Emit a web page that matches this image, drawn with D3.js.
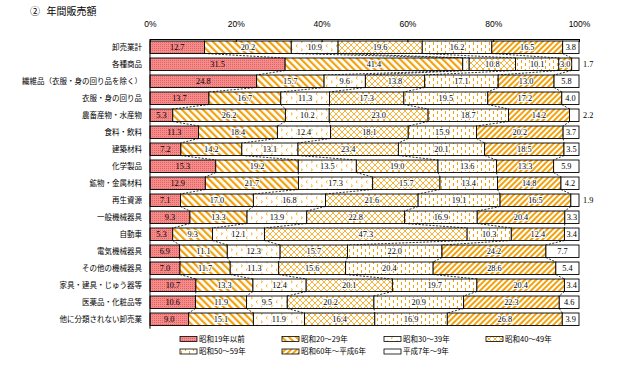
<!DOCTYPE html>
<html><head><meta charset="utf-8">
<script src="https://cdn.jsdelivr.net/npm/d3@7"></script>
<style>body{margin:0;background:#fff}svg{display:block}</style>
</head><body>
<svg id="c" width="624" height="366"></svg>
<script>
const categories = ["卸売業計","各種商品","繊維品（衣服・身の回り品を除く）","衣服・身の回り品","農畜産物・水産物","食料・飲料","建築材料","化学製品","鉱物・金属材料","再生資源","一般機械器具","自動車","電気機械器具","その他の機械器具","家具・建具・じゅう器等","医薬品・化粧品等","他に分類されない卸売業"];
const seriesNames = ["昭和19年以前","昭和20～29年","昭和30～39年","昭和40～49年","昭和50～59年","昭和60年～平成6年","平成7年～9年"];
const vS19   = [12.7,31.5,24.8,13.7,5.3,11.3,7.2,15.3,12.9,7.1,9.3,5.3,6.9,7.0,10.7,10.6,9.0];
const vS20   = [20.2,41.4,15.7,16.7,26.2,18.4,14.2,19.2,21.7,17.0,13.3,9.3,11.1,11.7,13.3,11.9,15.1];
const vS30   = [10.9,1.5,9.6,11.3,10.2,12.4,13.1,13.5,17.3,16.8,13.9,12.1,12.3,11.3,12.4,9.5,11.9];
const vS40   = [19.6,10.8,13.8,17.3,23.0,18.1,23.4,19.0,15.7,21.6,22.8,47.3,15.7,15.6,20.1,20.2,16.4];
const vS50   = [16.2,10.1,17.1,19.5,18.7,15.9,20.1,13.6,13.4,19.1,16.9,10.3,22.0,20.4,19.7,20.9,16.9];
const vS60   = [16.5,3.0,13.0,17.2,14.2,20.2,18.5,13.3,14.8,16.5,20.4,12.4,24.2,28.6,20.4,22.3,26.8];
const vH7    = [3.8,1.7,5.8,4.0,2.2,3.7,3.5,5.9,4.2,1.9,3.3,3.4,7.7,5.4,3.4,4.6,3.9];
const tickValues = [0,0.2,0.4,0.6,0.8,1.0];

const seriesValues = [vS19,vS20,vS30,vS40,vS50,vS60,vH7];
const rows = categories.map((c,i)=>{const o={cat:c}; seriesNames.forEach((s,j)=>o[s]=seriesValues[j][i]); return o;});

const svg = d3.select("#c");
const OR = "#f4a10c";
const defs = svg.append("defs");
// patterns
let p = defs.append("pattern").attr("id","p0").attr("patternUnits","userSpaceOnUse").attr("width",2).attr("height",2);
p.append("rect").attr("width",2).attr("height",2).attr("fill","#f58c8c");
p.append("rect").attr("width",1).attr("height",1).attr("fill","#e46262");
p = defs.append("pattern").attr("id","p1").attr("patternUnits","userSpaceOnUse").attr("width",5).attr("height",5).attr("patternTransform","rotate(-45)");
p.append("rect").attr("width",5).attr("height",5).attr("fill","#fff");
p.append("rect").attr("width",2.2).attr("height",5).attr("fill",OR);
p = defs.append("pattern").attr("id","p2").attr("patternUnits","userSpaceOnUse").attr("width",10).attr("height",8);
p.append("rect").attr("width",10).attr("height",8).attr("fill","#fff");
p.append("path").attr("d","M1,0.5L2.5,1.8L1,3.1M7.5,4.5L6,5.8L7.5,7.1").attr("fill","none").attr("stroke",OR).attr("stroke-width",0.9);
p = defs.append("pattern").attr("id","p3").attr("patternUnits","userSpaceOnUse").attr("width",6).attr("height",6);
p.append("rect").attr("width",6).attr("height",6).attr("fill","#fff");
p.append("path").attr("d","M0,0L6,6M6,0L0,6").attr("stroke",OR).attr("stroke-width",0.8);
p = defs.append("pattern").attr("id","p4").attr("patternUnits","userSpaceOnUse").attr("width",8).attr("height",6);
p.append("rect").attr("width",8).attr("height",6).attr("fill","#fff");
p.append("rect").attr("x",1).attr("y",0).attr("width",1).attr("height",3).attr("fill",OR);
p.append("rect").attr("x",5).attr("y",3).attr("width",1).attr("height",3).attr("fill",OR);
p = defs.append("pattern").attr("id","p5").attr("patternUnits","userSpaceOnUse").attr("width",4).attr("height",4).attr("patternTransform","rotate(45)");
p.append("rect").attr("width",4).attr("height",4).attr("fill","#fff");
p.append("rect").attr("width",2).attr("height",4).attr("fill",OR);
const fills = ["url(#p0)","url(#p1)","url(#p2)","url(#p3)","url(#p4)","url(#p5)","#fff"];

const x = d3.scaleLinear().domain([0,1]).range([150,579]);
const y = d3.scaleBand().domain(categories).range([39.3,327.2]).paddingInner(0.265).paddingOuter(0.1);

const stack = d3.stack().keys(seriesNames).offset(d3.stackOffsetExpand);
const series = stack(rows);

// title
svg.append("text").attr("x",30).attr("y",15).attr("font-family","Noto Sans CJK JP").attr("font-size",10).text("②");
svg.append("text").attr("x",46.5).attr("y",15).attr("font-family","Noto Sans CJK JP").attr("font-size",10).text("年間販売額");

// series lines (dashed connectors)
const conn = svg.append("g").attr("stroke","#000").attr("stroke-width",0.8).attr("stroke-dasharray","2,1.5").attr("fill","none");
series.slice(0,6).forEach(s=>{
  for(let i=0;i<s.length-1;i++){
    conn.append("line").attr("x1",x(s[i][1])).attr("y1",y(categories[i])+y.bandwidth())
      .attr("x2",x(s[i+1][1])).attr("y2",y(categories[i+1]));
  }
});

// bars
series.forEach((s,j)=>{
  svg.append("g").selectAll("rect").data(s).join("rect")
    .attr("x",d=>x(d[0])).attr("width",d=>x(d[1])-x(d[0]))
    .attr("y",(d,i)=>y(categories[i])).attr("height",y.bandwidth())
    .attr("fill",fills[j]).attr("stroke","#000").attr("stroke-width",0.9);
});

// value labels
series.forEach((s,j)=>{
  s.forEach((d,i)=>{
    const v = seriesValues[j][i];
    const cy = y(categories[i])+y.bandwidth()/2+3;
    let t;
    if (v >= 2.5) {
      t = svg.append("text").attr("x",(x(d[0])+x(d[1]))/2).attr("y",cy).attr("text-anchor","middle");
    } else if (j === seriesNames.length-1) {
      t = svg.append("text").attr("x",583).attr("y",cy).attr("text-anchor","start");
    } else return;
    t.attr("font-family","Liberation Serif").attr("font-size",8.3).attr("fill","#000").text(v.toFixed(1));
    if (j>0 && j<6 && v>=2.5) t.attr("stroke","#fff").attr("stroke-width",2).attr("paint-order","stroke").attr("stroke-linejoin","round");
  });
});

// top axis
const ax = svg.append("g").attr("transform","translate(0,39)")
  .call(d3.axisTop(x).tickValues(tickValues).tickFormat(d3.format(".0%")).tickSizeInner(-3).tickSizeOuter(0).tickPadding(12));
ax.selectAll("text").attr("font-family","Liberation Sans").attr("font-size",8.5).attr("fill","#000");
ax.selectAll("line,path").attr("stroke","#000").attr("stroke-width",1);
// left axis line
svg.append("line").attr("x1",150).attr("x2",150).attr("y1",39).attr("y2",y.range()[1]+1.5).attr("stroke","#000").attr("stroke-width",1);

// category labels
svg.append("g").selectAll("text").data(categories).join("text")
  .attr("x",142).attr("y",d=>y(d)+y.bandwidth()/2+3).attr("text-anchor","end")
  .attr("font-family","Noto Sans CJK JP").attr("font-size",7.5).attr("fill","#000").text(d=>d);

// legend
const legX = [180,282,384,486];
const leg = svg.append("g");
seriesNames.forEach((s,j)=>{
  const lx = legX[j%4], ly = j<4 ? 339 : 351.5;
  leg.append("rect").attr("x",lx).attr("y",ly-2.5).attr("width",17).attr("height",5).attr("fill",fills[j]).attr("stroke","#000").attr("stroke-width",0.8);
  leg.append("text").attr("x",lx+19).attr("y",ly+2.8).attr("font-family","Noto Sans CJK JP").attr("font-size",7.5).attr("fill","#000").text(s);
});
</script>
</body></html>
